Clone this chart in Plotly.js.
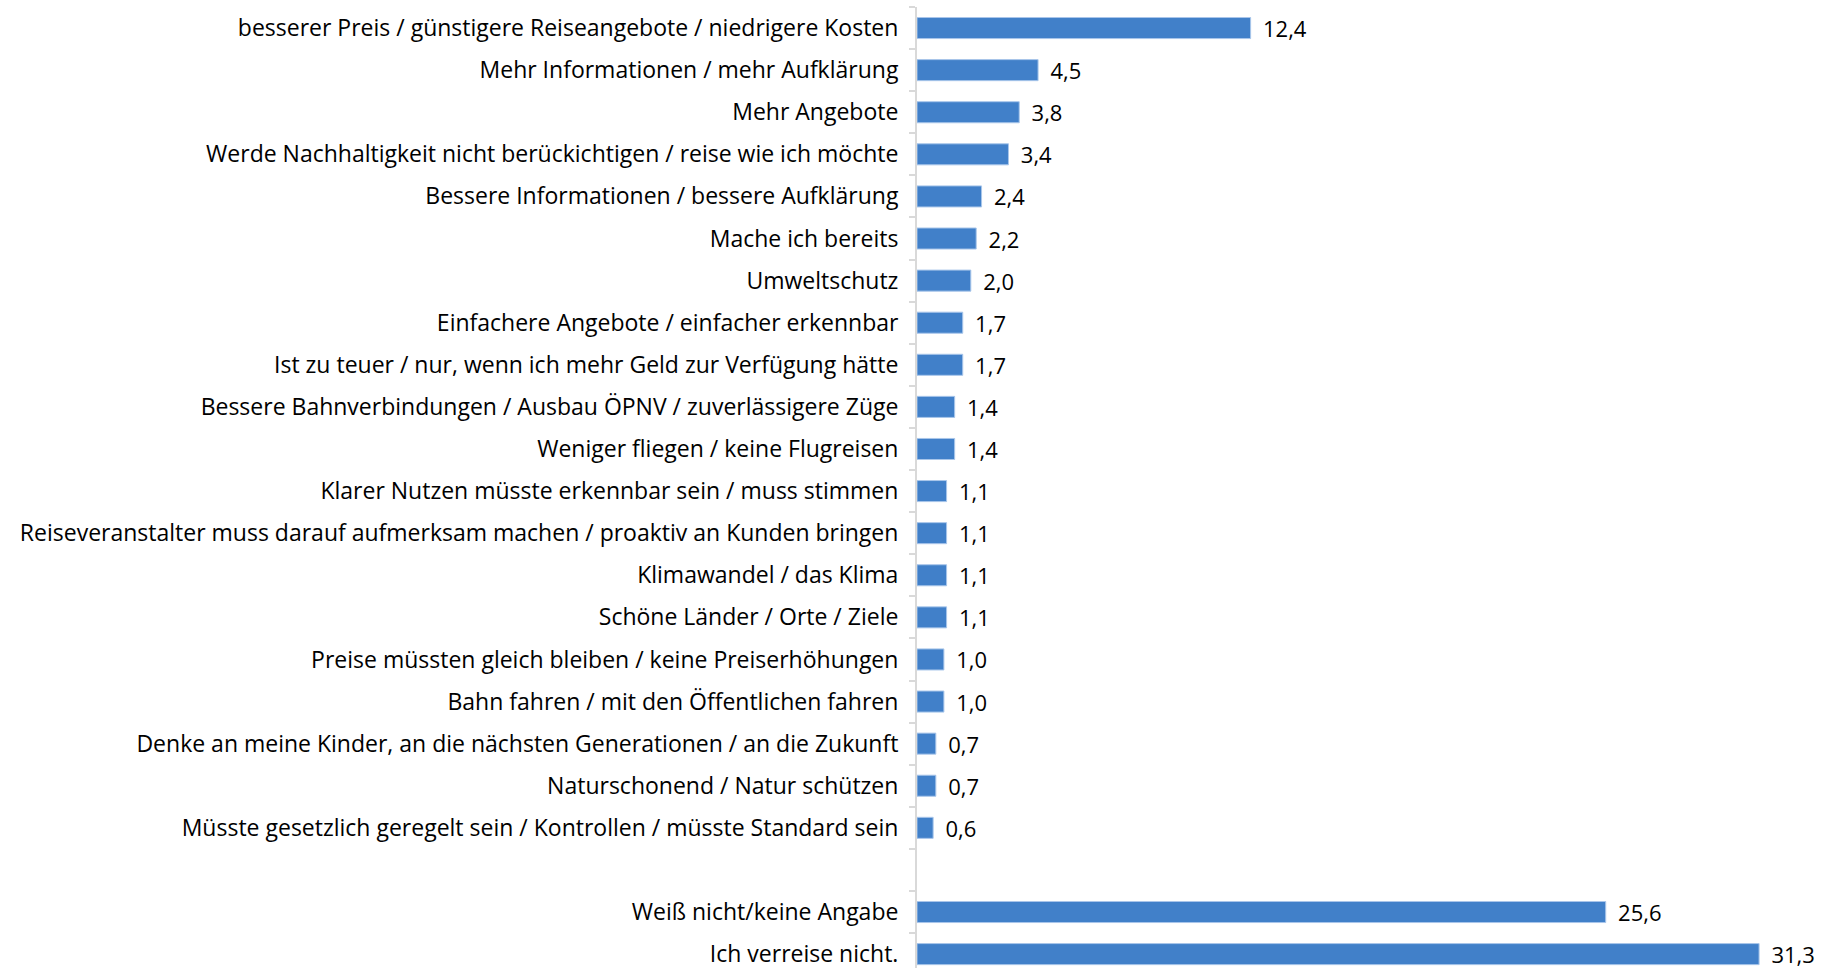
<!DOCTYPE html>
<html>
<head>
<meta charset="utf-8">
<script src="https://cdn.plot.ly/plotly-3.0.1.min.js"></script>
<style>html,body{margin:0;padding:0;background:#fff;}#chart{width:1825px;height:968px;}</style>
</head>
<body>
<div id="chart"></div>
<script>
const categories = [
  "besserer Preis / günstigere Reiseangebote / niedrigere Kosten",
  "Mehr Informationen / mehr Aufklärung",
  "Mehr Angebote",
  "Werde Nachhaltigkeit nicht berückichtigen / reise wie ich möchte",
  "Bessere Informationen / bessere Aufklärung",
  "Mache ich bereits",
  "Umweltschutz",
  "Einfachere Angebote / einfacher erkennbar",
  "Ist zu teuer / nur, wenn ich mehr Geld zur Verfügung hätte",
  "Bessere Bahnverbindungen / Ausbau ÖPNV / zuverlässigere Züge",
  "Weniger fliegen / keine Flugreisen",
  "Klarer Nutzen müsste erkennbar sein / muss stimmen",
  "Reiseveranstalter muss darauf aufmerksam machen / proaktiv an Kunden bringen",
  "Klimawandel / das Klima",
  "Schöne Länder / Orte / Ziele",
  "Preise müssten gleich bleiben / keine Preiserhöhungen",
  "Bahn fahren / mit den Öffentlichen fahren",
  "Denke an meine Kinder, an die nächsten Generationen / an die Zukunft",
  "Naturschonend / Natur schützen",
  "Müsste gesetzlich geregelt sein / Kontrollen / müsste Standard sein",
  " ",
  "Weiß nicht/keine Angabe",
  "Ich verreise nicht."
];
const values = [12.4, 4.5, 3.8, 3.4, 2.4, 2.2, 2.0, 1.7, 1.7, 1.4, 1.4, 1.1, 1.1, 1.1, 1.1, 1.0, 1.0, 0.7, 0.7, 0.6, null, 25.6, 31.3];
const labels = values.map(v => v === null ? "" : "\u00a0\u2009" + v.toFixed(1).replace(".", ","));

const FONT = "'Open Sans', sans-serif";

Plotly.newPlot("chart", [{
  type: "bar",
  orientation: "h",
  y: categories,
  x: values,
  text: labels,
  textposition: "outside",
  constraintext: "none",
  cliponaxis: false,
  textfont: {family: FONT, size: 22, color: "#000"},
  marker: {color: "#4180c9", line: {color: "#a9c6ea", width: 1}},
  hoverinfo: "skip"
}], {
  width: 1825,
  height: 968,
  margin: {l: 917, r: 0, t: 7, b: 0, pad: 0},
  paper_bgcolor: "#fff",
  plot_bgcolor: "#fff",
  bargap: 0.5,
  showlegend: false,
  separators: ", ",
  font: {family: FONT, size: 23, color: "#000"},
  xaxis: {
    range: [0, 33.75],
    visible: false,
    showgrid: false,
    zeroline: false,
    fixedrange: true
  },
  yaxis: {
    type: "category",
    categoryorder: "array",
    categoryarray: categories,
    range: [22.33, -0.5],
    showline: true,
    linecolor: "#d9d9d9",
    linewidth: 2,
    ticks: "outside",
    tickson: "boundaries",
    ticklen: 6,
    tickcolor: "#d9d9d9",
    tickwidth: 2,
    ticklabelstandoff: 12,
    showgrid: false,
    zeroline: false,
    tickfont: {family: FONT, size: 23, color: "#000"},
    fixedrange: true
  }
}, {staticPlot: true, displayModeBar: false});
</script>
</body>
</html>
